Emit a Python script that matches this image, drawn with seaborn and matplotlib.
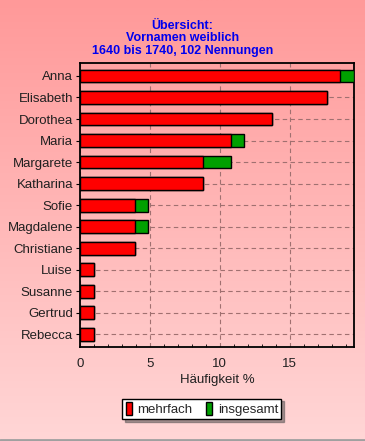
import numpy as np
import pandas as pd
import matplotlib
matplotlib.use("Agg")
import matplotlib.pyplot as plt
import seaborn as sns
from matplotlib.patches import Patch
from matplotlib.ticker import MultipleLocator

names = ["Anna", "Elisabeth", "Dorothea", "Maria", "Margarete", "Katharina",
         "Sofie", "Magdalene", "Christiane", "Luise", "Susanne", "Gertrud", "Rebecca"]
mehrfach = [18.63, 17.65, 13.73, 10.78, 8.82, 8.82, 3.92, 3.92, 3.92, 0.98, 0.98, 0.98, 0.98]
insgesamt = [19.61, 17.65, 13.73, 11.76, 10.78, 8.82, 4.90, 4.90, 3.92, 0.98, 0.98, 0.98, 0.98]
title = "Übersicht:\nVornamen weiblich\n1640 bis 1740, 102 Nennungen"

df = pd.DataFrame({"name": names, "mehrfach": mehrfach, "insgesamt": insgesamt})

sns.set_theme(style="white")
plt.rcParams['font.family'] = ['Liberation Sans', 'DejaVu Sans']

fig = plt.figure(figsize=(3.65, 4.41), dpi=100)

# gradient background
bg = fig.add_axes([0, 0, 1, 1], zorder=0)
grad = np.linspace(0, 1, 256).reshape(-1, 1)
top = np.array([1.0, 0.60, 0.60])
bot = np.array([1.0, 0.84, 0.84])
img = top[None, None, :] * (1 - grad[:, :, None]) + bot[None, None, :] * grad[:, :, None]
bg.imshow(img, aspect="auto", extent=[0, 1, 0, 1])
bg.set_xlim(0, 1); bg.set_ylim(0, 1)
bg.axis("off")
bg.plot([0, 1], [0.002, 0.002], color="#a0a0a0", lw=2, transform=bg.transAxes)

ax = fig.add_axes([0.219, 0.213, 0.751, 0.644], zorder=1)
ax.set_facecolor("none")

sns.barplot(data=df, y="name", x="insgesamt", orient="h", color="#00a000",
            edgecolor="black", linewidth=1, width=0.6, ax=ax, saturation=1, zorder=3)
sns.barplot(data=df, y="name", x="mehrfach", orient="h", color="#ff0000",
            edgecolor="black", linewidth=1, width=0.6, ax=ax, saturation=1, zorder=4)

ax.set_xlim(0, 19.6)
ax.set_ylim(12.6, -0.6)
ax.xaxis.set_major_locator(MultipleLocator(5))
ax.xaxis.set_minor_locator(MultipleLocator(1))
ax.tick_params(axis="x", which="major", direction="in", length=4, width=0.8, colors="black",
               labelsize=9.5, pad=8)
ax.tick_params(axis="x", which="minor", direction="in", length=2, width=0.6, colors="black", bottom=True)
ax.tick_params(axis="y", direction="out", length=3, width=0.8, labelsize=9.5, colors="black", left=True, pad=2)
for lab in ax.get_xticklabels() + ax.get_yticklabels():
    lab.set_color("#202020")
ax.grid(True, axis="both", which="major", linestyle=(0, (4, 3)), color="#a07070", linewidth=0.8, zorder=0)
ax.set_axisbelow(True)
ax.set_ylabel("")
ax.set_xlabel("Häufigkeit %", fontsize=9.5, color="#202020", labelpad=3)
for s in ax.spines.values():
    s.set_color("black")
    s.set_linewidth(1.3)
    s.set_visible(True)

fig.text(0.5, 0.955, title, ha="center", va="top", fontsize=9, fontweight="bold",
         color="#0000ee", linespacing=1.05)

handles = [Patch(facecolor="#ff0000", edgecolor="black"),
           Patch(facecolor="#00a000", edgecolor="black")]
leg = fig.legend(handles, ["mehrfach", "insgesamt"], loc="center", bbox_to_anchor=(0.553, 0.073),
                 ncol=2, fontsize=9.5, frameon=True, fancybox=False, shadow=True,
                 handlelength=0.5, handleheight=1.1, handletextpad=0.4, columnspacing=1.0,
                 borderpad=0.25, borderaxespad=0.3)
leg.get_frame().set_edgecolor("black")
leg.get_frame().set_facecolor("white")
leg.get_frame().set_alpha(1)
leg.get_frame().set_linewidth(1)

fig.savefig("out.png", dpi=100)
